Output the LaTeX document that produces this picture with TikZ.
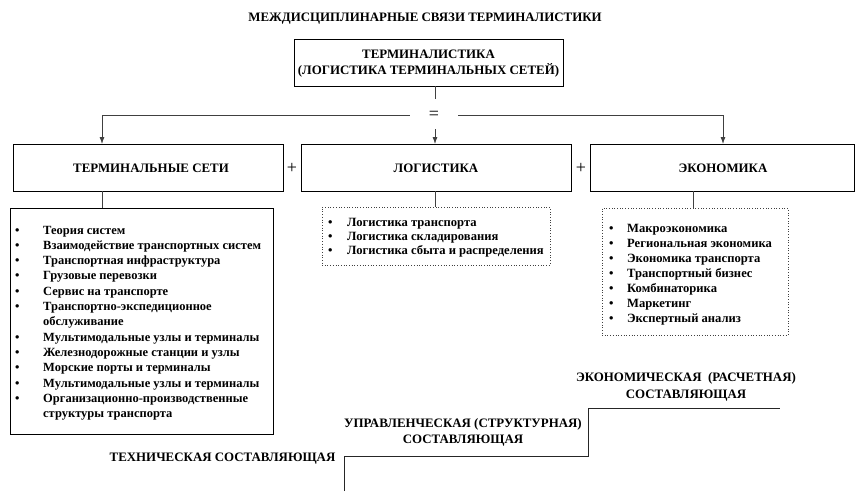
\documentclass[tikz,border=0pt]{standalone}
\usepackage{fontspec}
\setmainfont{Liberation Serif}
\usetikzlibrary{arrows.meta}
\begin{document}
\begin{tikzpicture}[x=1pt,y=-1pt,
  frame/.style={draw=black, line width=0.8pt, inner sep=0pt},
  dotframe/.style={draw=black!75, dotted, line width=0.7pt, inner sep=0pt},
  link/.style={draw=black!75, line width=0.8pt},
  arr/.style={link, -{Latex[length=7pt,width=5pt]}},
  caption/.style={font=\bfseries\fontsize{12.9}{16.5}\selectfont, align=center, inner sep=0pt},
  sign/.style={font=\fontsize{18}{18}\selectfont, inner sep=0pt},
  listtext/.style={anchor=base west, inner sep=0pt, align=left},
]
\useasboundingbox (0,0) rectangle (855,491);

% heading and the main box
\node[caption] (title) at (425,19) {МЕЖДИСЦИПЛИНАРНЫЕ СВЯЗИ ТЕРМИНАЛИСТИКИ};
\node[frame, minimum width=269pt, minimum height=47pt] (top) at (428.5,62.5) {};
\node[caption] (toptext) at (428.5,63.5) {ТЕРМИНАЛИСТИКА\\(ЛОГИСТИКА ТЕРМИНАЛЬНЫХ СЕТЕЙ)};

% the three components
\node[frame, minimum width=270pt, minimum height=47pt] (tn) at (148,167.5) {};
\node[caption] (tntext) at (151,168) {ТЕРМИНАЛЬНЫЕ СЕТИ};
\node[frame, minimum width=270pt, minimum height=47pt] (lg) at (436,167.5) {};
\node[caption] (lgtext) at (436,168) {ЛОГИСТИКА};
\node[frame, minimum width=264pt, minimum height=47pt] (ek) at (722,167.5) {};
\node[caption] (ektext) at (723,168) {ЭКОНОМИКА};
\node[sign] (plus1) at (292,168) {+};
\node[sign] (plus2) at (581,168) {+};

% split: "=" and the three arrows
\coordinate (split) at (435,99);
\node[sign, minimum width=48pt] (eq) at (434,115) {=};
\coordinate (eqfoot) at (435,129);
\coordinate (tnin) at (102,144);
\coordinate (lgin) at (435,144);
\coordinate (ekin) at (723,144);
\draw[link] (top.south -| split) -- (split);
\draw[arr] (eq.west) -| (tnin);
\draw[arr] (eqfoot) -- (lgin);
\draw[arr] (eq.east) -| (ekin);

% lists
\node[frame, minimum width=263pt, minimum height=226pt] (tnlist) at (141.5,321) {};
\node[dotframe, minimum width=228pt, minimum height=58pt] (lglist) at (436,236) {};
\node[dotframe, minimum width=186pt, minimum height=127pt] (eklist) at (695,271.5) {};
\draw[link] (tn.south -| tnin) -- (tnlist.north -| tnin);
\draw[link] (lg.south -| lgin) -- (lglist.north -| lgin);
\draw[link] (ek.south -| 693,0) -- (eklist.north -| 693,0);

\node[listtext, font=\bfseries\fontsize{12.5}{15.3}\selectfont] (tnitems) at (15,234) {%
  \begin{tabular}[t]{@{}p{28pt}@{}l@{}}
  \textbullet & Теория систем\\
  \textbullet & Взаимодействие транспортных систем\\
  \textbullet & Транспортная инфраструктура\\
  \textbullet & Грузовые перевозки\\
  \textbullet & Сервис на транспорте\\
  \textbullet & Транспортно-экспедиционное\\
              & обслуживание\\
  \textbullet & Мультимодальные узлы и терминалы\\
  \textbullet & Железнодорожные станции и узлы\\
  \textbullet & Морские порты и терминалы\\
  \textbullet & Мультимодальные узлы и терминалы\\
  \textbullet & Организационно-производственные\\
              & структуры транспорта
  \end{tabular}};

\node[listtext, font=\bfseries\fontsize{12.6}{14.2}\selectfont] (lgitems) at (328,226) {%
  \begin{tabular}[t]{@{}p{19pt}@{}l@{}}
  \textbullet & Логистика транспорта\\
  \textbullet & Логистика складирования\\
  \textbullet & Логистика сбыта и распределения
  \end{tabular}};

\node[listtext, font=\bfseries\fontsize{12.6}{15.1}\selectfont] (ekitems) at (609,232) {%
  \begin{tabular}[t]{@{}p{18pt}@{}l@{}}
  \textbullet & Макроэкономика\\
  \textbullet & Региональная экономика\\
  \textbullet & Экономика транспорта\\
  \textbullet & Транспортный бизнес\\
  \textbullet & Комбинаторика\\
  \textbullet & Маркетинг\\
  \textbullet & Экспертный анализ
  \end{tabular}};

% staircase of the components
\coordinate (s0) at (344,491);
\coordinate (s1) at (344,456);
\coordinate (s2) at (588,456);
\coordinate (s3) at (588,408);
\coordinate (s4) at (780,408);
\draw[link, draw=black!85] (s0) -- (s1) -- (s2) -- (s3) -- (s4);
\node[caption] (tech) at (222.5,459) {ТЕХНИЧЕСКАЯ СОСТАВЛЯЮЩАЯ};
\node[caption] (mgmt) at (463,432.5) {УПРАВЛЕНЧЕСКАЯ (СТРУКТУРНАЯ)\\СОСТАВЛЯЮЩАЯ};
\node[caption] (econ) at (686,387) {ЭКОНОМИЧЕСКАЯ \ (РАСЧЕТНАЯ)\\СОСТАВЛЯЮЩАЯ};
\end{tikzpicture}
\end{document}
